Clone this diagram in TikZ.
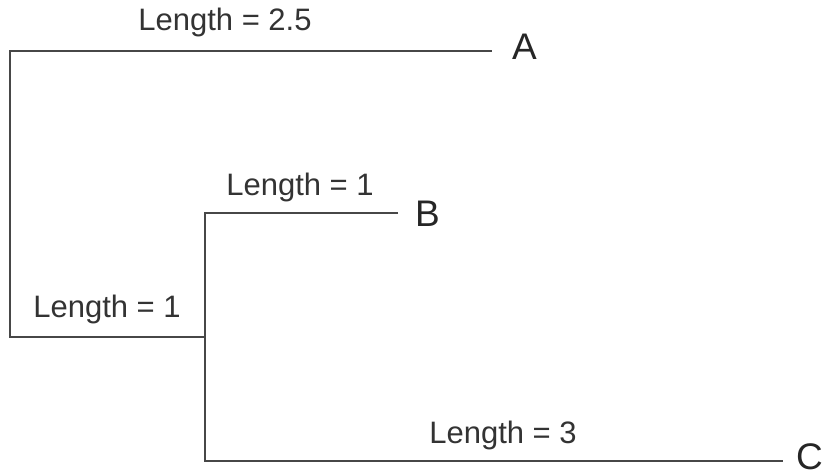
\documentclass[tikz,border=0pt]{standalone}
\usepackage{fontspec}
\setmainfont{Liberation Sans}
\begin{document}
\begin{tikzpicture}[x=1pt,y=-1pt,
  branch/.style={draw=black!72,line width=2.2pt},
  lbl/.style={inner sep=0pt,font=\fontsize{31}{34}\selectfont,text=black!80},
  leaf/.style={inner sep=0pt,font=\fontsize{37}{40}\selectfont,text=black!85}]
\useasboundingbox (0,0) rectangle (825,475);
\coordinate (r) at (10,337);
\coordinate (rt) at (10,51);
\coordinate (n) at (205,337);
\coordinate (nb) at (205,213);
\coordinate (nc) at (205,461);
\coordinate (ea) at (492,51);
\coordinate (eb) at (398,213);
\coordinate (ec) at (783,461);
\node[leaf,anchor=west] (A) at (512,47) {A};
\node[leaf,anchor=west] (B) at (415,214) {B};
\node[leaf,anchor=west] (C) at (796,457) {C};
\draw[branch] (n) -- (r) -- (rt) -- (ea);
\draw[branch] (eb) -- (nb) -- (nc) -- (ec);
\node[lbl] (la) at (225,22) {Length = 2.5};
\node[lbl] (lb) at (300,187) {Length = 1};
\node[lbl] (ln) at (107,309) {Length = 1};
\node[lbl] (lc) at (503,435) {Length = 3};
\end{tikzpicture}
\end{document}
